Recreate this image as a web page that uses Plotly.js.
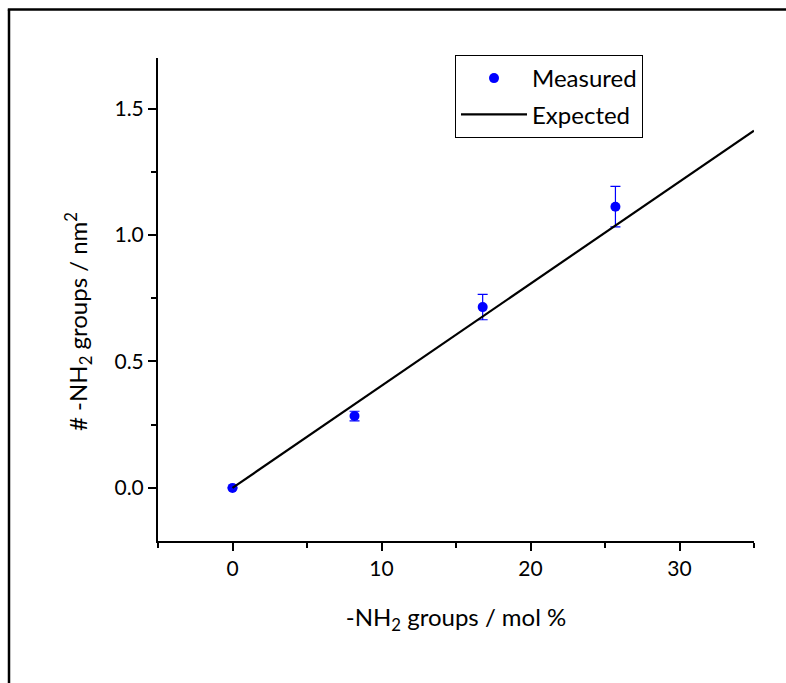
<!DOCTYPE html>
<html>
<head>
<meta charset="utf-8">
<script src="https://cdn.plot.ly/plotly-3.0.1.min.js"></script>
<style>html,body{margin:0;padding:0;background:#fff;overflow:hidden;}#chart{width:786px;height:683px;}</style>
</head>
<body>
<div id="chart"></div>
<script>
// Data
const measuredX = [0, 8.19, 16.79, 25.70];
const measuredY = [0, 0.284, 0.715, 1.112];
const measuredErr = [0, 0.019, 0.05, 0.08];
const expectedX = [0, 35];
const expectedY = [0, 1.413];
const xTickVals = [0, 10, 20, 30];
const yTickVals = [0, 0.5, 1.0, 1.5];

const FONT = 'Lato, "Open Sans", sans-serif';

const traces = [
  {
    type: 'scatter', mode: 'markers', name: 'Measured',
    x: measuredX, y: measuredY,
    marker: {color: '#0000FF', size: 10, symbol: 'circle'},
    error_y: {type: 'data', array: measuredErr, visible: true, color: '#0000FF', thickness: 1.2, width: 5},
    legendgroup: 'a'
  },
  {
    type: 'scatter', mode: 'lines', name: 'Expected',
    x: expectedX, y: expectedY,
    line: {color: '#000000', width: 2.2},
    legendgroup: 'b'
  }
];

const L = 158, R = 32, T = 58, B = 142;
const pw = 786 - L - R, ph = 683 - T - B;
const px = v => (v - L) / pw;
const py = v => (683 - B - v) / ph;

const layout = {
  width: 786, height: 683,
  margin: {l: L, r: R, t: T, b: B},
  paper_bgcolor: '#ffffff', plot_bgcolor: '#ffffff',
  font: {family: FONT, color: '#000000', size: 21},
  showlegend: true,
  legend: {
    x: px(455), y: py(55), xanchor: 'left', yanchor: 'top',
    bgcolor: '#ffffff', bordercolor: '#000000', borderwidth: 1,
    font: {family: FONT, size: 24, color: '#000000'},
    itemwidth: 66, traceorder: 'grouped', tracegroupgap: 2
  },
  xaxis: {
    range: [-5, 35], tickvals: xTickVals, ticktext: xTickVals.map(String),
    ticks: 'outside', ticklen: 8, tickwidth: 2, tickcolor: '#000',
    showline: true, linewidth: 2, linecolor: '#000',
    showgrid: false, zeroline: false,
    minor: {dtick: 5, tick0: 0, ticks: 'outside', ticklen: 5, tickwidth: 2, tickcolor: '#000', showgrid: false},
    tickfont: {family: FONT, size: 21, color: '#000'},
    title: {text: '-NH<sub>2</sub> groups / mol %', font: {family: FONT, size: 24, color: '#000'}, standoff: 30}
  },
  yaxis: {
    range: [-0.21, 1.70], tickvals: yTickVals, ticktext: yTickVals.map(v => v.toFixed(1)),
    ticks: 'outside', ticklen: 8, tickwidth: 2, tickcolor: '#000',
    showline: true, linewidth: 2, linecolor: '#000',
    showgrid: false, zeroline: false,
    minor: {dtick: 0.25, tick0: 0, ticks: 'outside', ticklen: 5, tickwidth: 2, tickcolor: '#000', showgrid: false},
    tickfont: {family: FONT, size: 21, color: '#000'}
  },
  annotations: [
    {text: '# -NH<sub>2</sub> groups / nm<sup>2</sup>', xref: 'paper', yref: 'paper',
     x: px(78), y: py(322), xanchor: 'center', yanchor: 'middle', textangle: -90,
     showarrow: false, font: {family: FONT, size: 24, color: '#000'}}
  ],
  shapes: [
    {type: 'line', xref: 'paper', yref: 'paper',
     x0: px(9), x1: px(9), y0: py(700), y1: py(9.5),
     line: {color: '#000', width: 2.5}, layer: 'below'},
    {type: 'line', xref: 'paper', yref: 'paper',
     x0: px(7.8), x1: px(800), y0: py(9.5), y1: py(9.5),
     line: {color: '#000', width: 2.5}, layer: 'below'}
  ]
};

Plotly.newPlot('chart', traces, layout, {displayModeBar: false, staticPlot: true});
</script>
</body>
</html>
